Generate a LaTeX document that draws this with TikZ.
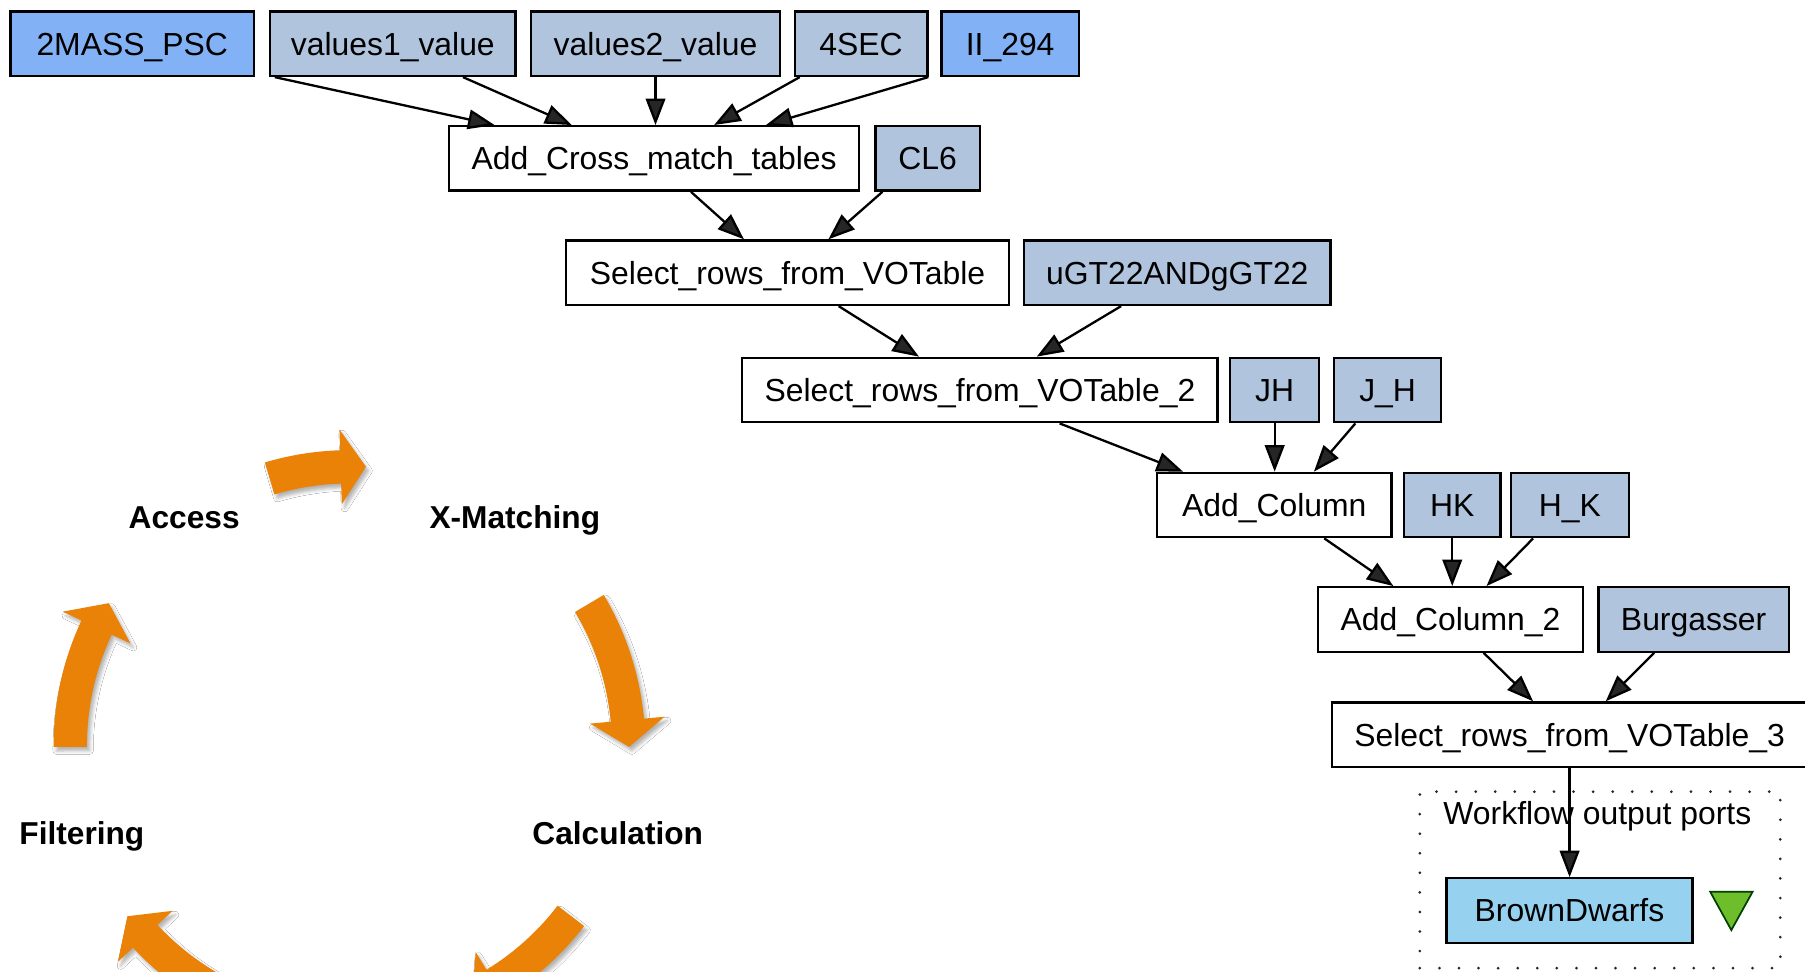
\documentclass[tikz,border=0pt]{standalone}
\usepackage{fontspec}
\setmainfont{Liberation Sans}
\usetikzlibrary{arrows.meta,calc,shadows.blur}

\definecolor{inputblue}{HTML}{82B2F5}
\definecolor{constblue}{HTML}{B0C4DE}
\definecolor{outblue}{HTML}{96D1EF}
\definecolor{portgreen}{HTML}{6EBE2C}
\definecolor{cycorange}{HTML}{EA8207}

\tikzset{
  wfbox/.style={draw=black, line width=2pt, inner sep=0pt, minimum height=56pt,
    text height=19.8pt, text depth=0pt, fill=white,
    font=\fontsize{27.7pt}{33pt}\selectfont},
  procbox/.style={wfbox},
  srcbox/.style={wfbox, fill=inputblue},
  constbox/.style={wfbox, fill=constblue},
  outbox/.style={wfbox, fill=outblue},
  flow/.style={line width=2pt, -{Triangle[length=23pt,width=17pt]}},
  portcluster/.style={draw=black!85, line width=2.6pt, line cap=round,
    dash pattern=on 0pt off 17pt, inner sep=0pt},
  portlabel/.style={inner sep=0pt, text height=19.8pt, text depth=0pt,
    font=\fontsize{27.7pt}{33pt}\selectfont},
  cyclabel/.style={inner sep=0pt, text height=19.7pt, text depth=0pt,
    font=\fontsize{27.5pt}{33pt}\selectfont\bfseries},
  cycarrow/.style={fill=cycorange,
    blur shadow={shadow xshift=2.5pt, shadow yshift=-3.5pt,
      shadow blur radius=3pt, shadow opacity=30}},
}

% curved block arrow on the cycle circle: tail angle, head base angle, tip angle
\newcommand{\cyclearrow}[3]{%
  \path[cycarrow] ($(cyc)+(#1:257)$) arc[start angle=#1, end angle=#2, radius=257]
    -- ($(cyc)+(#2:275)$) -- ($(cyc)+(#3:243)$) -- ($(cyc)+(#2:210)$)
    -- ($(cyc)+(#2:228)$) arc[start angle=#2, end angle=#1, radius=228] -- cycle;}

\begin{document}
\begin{tikzpicture}[x=1pt, y=-1pt]
  \fill[white] (0,0) rectangle (1568,844);
  \useasboundingbox (0,0) rectangle (1568,844);
  \clip (0,0) rectangle (1568,844);

  % ---------- analysis cycle ----------
  \coordinate (cyc) at (303.5,648);
  \cyclearrow{-106.6}{-91.8}{-86.6}
  \cyclearrow{-30.7}{-5.3}{0.2}
  \cyclearrow{37.5}{58.5}{64}
  \cyclearrow{116}{137}{142.5}
  \cyclearrow{179.8}{205.1}{210.7}

  \node[cyclabel] (access) at (160,449.5) {Access};
  \node[cyclabel] (xmatch) at (447.2,449.5) {X-Matching};
  \node[cyclabel] (filter) at (71.1,723.6) {Filtering};
  \node[cyclabel] (calc)   at (536.6,723.6) {Calculation};

  % ---------- workflow ----------
  % row 1: inputs
  \node[srcbox,   minimum width=211.5pt] (twomass) at (114.85,38) {2MASS\_PSC};
  \node[constbox, minimum width=213.3pt] (valone)  at (341.25,38) {values1\_value};
  \node[constbox, minimum width=216.3pt] (valtwo)  at (569.45,38) {values2\_value};
  \node[constbox, minimum width=115.2pt] (foursec) at (748,38) {4SEC};
  \node[srcbox,   minimum width=119.4pt] (iitwo)   at (877.5,38) {II\_294};
  % row 2
  \node[procbox,  minimum width=356.5pt] (xmatchtab) at (568.25,137.6) {Add\_Cross\_match\_tables};
  \node[constbox, minimum width=90.8pt]  (clsix)     at (805.9,137.6) {CL6};
  % row 3
  \node[procbox,  minimum width=384.9pt] (selone) at (684.15,236.9) {Select\_rows\_from\_VOTable};
  \node[constbox, minimum width=266.3pt] (ugt)    at (1022.75,236.9) {uGT22ANDgGT22};
  % row 4
  \node[procbox,  minimum width=412.9pt] (seltwo) at (851.25,338.8) {Select\_rows\_from\_VOTable\_2};
  \node[constbox, minimum width=77.4pt]  (jh)     at (1107.3,338.8) {JH};
  \node[constbox, minimum width=93.2pt]  (jhu)    at (1205.4,338.8) {J\_H};
  % row 5
  \node[procbox,  minimum width=203.5pt] (addcol) at (1107,438.7) {Add\_Column};
  \node[constbox, minimum width=83.9pt]  (hk)     at (1261.55,438.7) {HK};
  \node[constbox, minimum width=102.5pt] (hku)    at (1363.65,438.7) {H\_K};
  % row 6
  \node[procbox,  minimum width=229.7pt] (addcoltwo) at (1260,538.1) {Add\_Column\_2};
  \node[constbox, minimum width=165.1pt] (burg)      at (1471.25,538.1) {Burgasser};
  % row 7
  \node[procbox,  minimum width=413pt]   (selthree) at (1363.5,638.2) {Select\_rows\_from\_VOTable\_3};

  % output ports
  \node[portcluster, minimum width=313.1pt, minimum height=153.3pt] (outports) at (1389.95,764.35) {};
  \node[portlabel] (outlabel) at (1387.6,706) {Workflow output ports};
  \node[outbox, minimum width=213.7pt] (brown) at (1363.35,791) {BrownDwarfs};
  \filldraw[fill=portgreen, draw=black!75!green, line width=1.5pt, line join=miter]
    (1485.6,774.6) -- (1522.5,774.6) -- (1504,808) -- cycle;

  % connectors
  \draw[flow] ([xshift=17.1pt]twomass.south east) -- ([xshift=-138.65pt]xmatchtab.north);
  \draw[flow] ([xshift=60.95pt]valone.south) -- ([xshift=-71.65pt]xmatchtab.north);
  \draw[flow] (valtwo.south) -- (valtwo.south |- xmatchtab.north);
  \draw[flow] ([xshift=-53.3pt]foursec.south) -- ([xshift=52.05pt]xmatchtab.north);
  \draw[flow] ([xshift=-10.4pt]iitwo.south west) -- ([xshift=97.15pt]xmatchtab.north);

  \draw[flow] ([xshift=31.95pt]xmatchtab.south) -- ([xshift=-37.85pt]selone.north);
  \draw[flow] ([xshift=-39.3pt]clsix.south) -- ([xshift=35.45pt]selone.north);

  \draw[flow] ([xshift=44.35pt]selone.south) -- ([xshift=-52.95pt]seltwo.north);
  \draw[flow] ([xshift=-48.85pt]ugt.south) -- ([xshift=49.35pt]seltwo.north);

  \draw[flow] ([xshift=69.25pt]seltwo.south) -- ([xshift=-79.3pt]addcol.north);
  \draw[flow] (jh.south) -- (jh.south |- addcol.north);
  \draw[flow] ([xshift=-28pt]jhu.south) -- ([xshift=34.4pt]addcol.north);

  \draw[flow] ([xshift=43.4pt]addcol.south) -- ([xshift=-49.6pt]addcoltwo.north);
  \draw[flow] (hk.south) -- (hk.south |- addcoltwo.north);
  \draw[flow] ([xshift=-31.85pt]hku.south) -- ([xshift=31.3pt]addcoltwo.north);

  \draw[flow] ([xshift=28.8pt]addcoltwo.south) -- ([xshift=-31.7pt]selthree.north);
  \draw[flow] ([xshift=-34.25pt]burg.south) -- ([xshift=31.4pt]selthree.north);

  \draw[flow] (selthree.south) -- (selthree.south |- brown.north);
\end{tikzpicture}
\end{document}
